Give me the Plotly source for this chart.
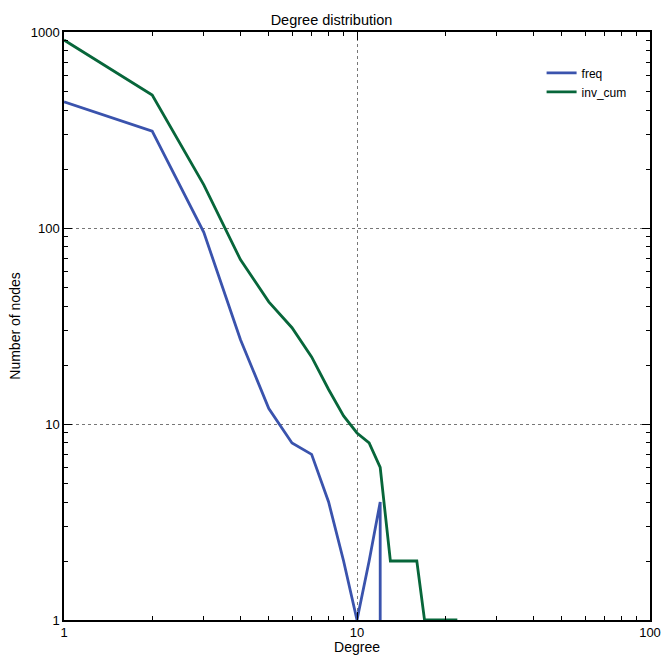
import plotly.graph_objects as go

# Degree values and series
degree_freq = [1, 2, 3, 4, 5, 6, 7, 8, 9, 10, 11, 12, 12]
freq = [440, 312, 95, 27, 12, 8, 7, 4, 2, 1, 2, 4, 0.5]  # last point: drop to 0 (clipped below axis)

degree_cum = [1, 2, 3, 4, 5, 6, 7, 8, 9, 10, 11, 12, 13, 14, 15, 16, 17, 18, 19, 20, 21, 22]
inv_cum = [910, 477, 166, 69, 42, 31, 22, 15, 11, 9, 8, 6, 2, 2, 2, 2, 1, 1, 1, 1, 1, 1]

x_tickvals = [1, 10, 100]
x_ticktext = ["1", "10", "100"]
y_tickvals = [1, 10, 100, 1000]
y_ticktext = ["1", "10", "100", "1000"]
x_minor = [2, 3, 4, 5, 6, 7, 8, 9, 20, 30, 40, 50, 60, 70, 80, 90]
y_minor = [2, 3, 4, 5, 6, 7, 8, 9, 20, 30, 40, 50, 60, 70, 80, 90,
           200, 300, 400, 500, 600, 700, 800, 900]

BLUE = "#3a53ad"
GREEN = "#07663a"
FONT = "Liberation Sans, Arial, sans-serif"

fig = go.Figure()
fig.add_trace(go.Scatter(x=degree_freq, y=freq, mode="lines", name="freq",
                         line=dict(color=BLUE, width=2.8)))
fig.add_trace(go.Scatter(x=degree_cum, y=inv_cum, mode="lines", name="inv_cum",
                         line=dict(color=GREEN, width=2.8)))

axis_common = dict(
    type="log",
    showline=True, linecolor="black", linewidth=1.5,
    mirror="allticks",
    ticks="inside", ticklen=8, tickcolor="black", tickwidth=1,
    showgrid=True, gridcolor="#777777", gridwidth=1, griddash="3px,3px",
    zeroline=False,
    tickfont=dict(family=FONT, size=13, color="black"),
)

fig.update_xaxes(range=[0, 2], tickvals=x_tickvals, ticktext=x_ticktext, automargin=False,
                 minor=dict(tickmode="array", tickvals=x_minor, ticks="inside", ticklen=4,
                            tickcolor="black", showgrid=False),
                 title=dict(text="Degree", font=dict(family=FONT, size=14, color="black")),
                 **axis_common)
fig.update_yaxes(range=[0, 3], tickvals=y_tickvals, ticktext=y_ticktext, automargin=True,
                 minor=dict(tickmode="array", tickvals=y_minor, ticks="inside", ticklen=4,
                            tickcolor="black", showgrid=False),
                 title=dict(text="Number of nodes", font=dict(family=FONT, size=14, color="black"), standoff=7),
                 **axis_common)

fig.update_layout(
    width=663, height=655,
    margin=dict(l=64, r=13, t=32, b=35),
    paper_bgcolor="white", plot_bgcolor="white",
    title=dict(text="Degree distribution", x=0.5, xanchor="center", y=0.969, yanchor="middle",
               font=dict(family=FONT, size=14.5, color="black")),
    font=dict(family=FONT, size=13, color="black"),
    legend=dict(x=0.815, y=0.955, xanchor="left", yanchor="top", bgcolor="rgba(0,0,0,0)",
                font=dict(family=FONT, size=12, color="black"), tracegroupgap=0, itemwidth=30),
    showlegend=True,
)

fig.write_html("out.html", config={"displayModeBar": False},
               post_script="document.body.style.margin='0';")
